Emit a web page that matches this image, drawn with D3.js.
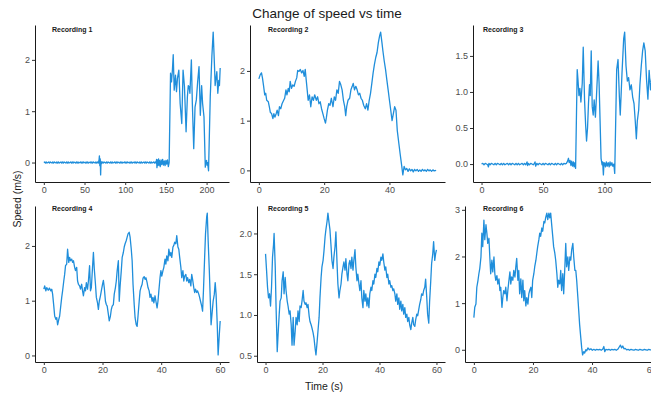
<!DOCTYPE html>
<html>
<head>
<meta charset="utf-8">
<script src="https://cdn.jsdelivr.net/npm/d3@7"></script>
<style>
  body { margin: 0; background: #fff; }
  text { font-family: "Liberation Sans", Arial, sans-serif; }
</style>
</head>
<body>
<svg id="chart" width="651" height="396"></svg>
<script>
// speed (m/s) against time (s)
const rec1 = [
  [0,0],[1,0.01],[2,-0.01],[3,0.01],[4,-0.01],[5,0],[6,0.01],[7,-0.01],[8,0.01],[9,0],[10,-0.01],
  [11,0.01],[12,-0.01],[13,0.01],[14,0],[15,-0.01],[16,0.01],[17,-0.01],[18,0.01],[19,-0.01],[20,0],
  [21,0.01],[22,-0.01],[23,0.01],[24,-0.01],[25,0.01],[26,0],[27,-0.01],[28,0.01],[29,-0.01],[30,0.01],
  [31,-0.01],[32,0],[33,0.01],[34,-0.01],[35,0.01],[36,-0.01],[37,0.01],[38,0],[39,-0.01],[40,0.01],
  [41,-0.01],[42,0.01],[43,-0.01],[44,0],[45,0.01],[46,-0.01],[47,0.01],[48,-0.01],[49,0.01],[50,0],
  [51,-0.01],[52,0.01],[53,-0.01],[54,0.01],[55,-0.01],[56,0],[57,0.01],[58,-0.01],[59,0.01],[60,-0.01],
  [61,0.01],[62,0],[63,-0.01],[64,0.01],[65,-0.01],[66,0.01],[67,-0.01],[67.8,0.04],[68.3,0.13],
  [68.8,-0.06],[69.3,0.07],[69.8,-0.24],[70.3,0.02],[71,-0.02],[72,0.01],[73,-0.01],[74,0.01],[75,0],
  [76,-0.01],[77,0.01],[78,-0.01],[79,0.01],[80,0],[81,-0.01],[82,0.01],[83,-0.01],[84,0.01],[85,-0.01],
  [86,0],[87,0.01],[88,-0.01],[89,0.01],[90,-0.01],[91,0.01],[92,0],[93,-0.01],[94,0.01],[95,-0.01],
  [96,0.01],[97,-0.01],[98,0],[99,0.01],[100,-0.01],[101,0.01],[102,-0.01],[103,0.01],[104,0],[105,-0.01],
  [106,0.01],[107,-0.01],[108,0.01],[109,-0.01],[110,0],[111,0.01],[112,-0.01],[113,0.01],[114,-0.01],
  [115,0.01],[116,0],[117,-0.01],[118,0.01],[119,-0.01],[120,0.01],[121,-0.01],[122,0],[123,0.01],
  [124,-0.01],[125,0.01],[126,-0.01],[127,0.01],[128,0],[129,-0.01],[130,0.01],[131,-0.01],[132,0.01],
  [133,-0.01],[134,0],[135,0.01],[136,-0.01],[137,0.01],[138,-0.01],[138.5,0.06],[139,-0.1],[139.5,0.05],
  [140,-0.06],[141,0.07],[141.5,-0.05],[142,0.04],[143,-0.08],[144,0.05],[145,-0.04],[146,0.06],
  [147,-0.05],[148,0.03],[149,-0.06],[150,0.04],[151,-0.03],[152,0.05],[153,-0.08],[154,0],
  [155.7,1.74],[156.9,1.57],[158,1.8],[159,2.1],[160.2,1.41],[161.8,1.7],[163,1.38],[164.2,1.64],
  [165.9,1.8],[167.5,1.15],[169.5,0.76],[171.1,1.8],[172.8,1.48],[174.8,0.6],[176.4,1.28],[177.5,1.5],
  [178.5,1.48],[179.5,1.35],[181.3,2.0],[182.5,1.15],[184.2,0.27],[185.8,1.08],[187.4,1.22],[189,1.57],
  [190.7,1.87],[192.3,0.92],[193.9,1.5],[195.1,1.15],[196.8,0.89],[198.4,-0.09],[199,0.02],[200,0.04],
  [200.5,-0.05],[201.2,0],[202.4,-0.16],[204.5,1.28],[206.5,2.07],[208.1,2.54],[209.8,1.84],[210.5,1.5],
  [211.4,1.62],[212.6,1.77],[213.8,1.35],[215,1.6],[215.8,1.5],[216.7,1.84]
]

const rec2 = [
  [0,1.84],[0.4,1.92],[0.8,1.96],[1.1,1.86],[1.4,1.72],[1.8,1.52],[2.1,1.55],[2.4,1.41],[2.9,1.38],
  [3.2,1.28],[3.5,1.17],[3.9,1.14],[4.3,1.04],[4.6,1.14],[4.9,1.07],[5.3,1.14],[5.6,1.21],[6.0,1.1],
  [6.3,1.28],[6.7,1.24],[7.1,1.34],[7.6,1.41],[7.9,1.45],[8.3,1.62],[8.6,1.52],[9.0,1.65],[9.3,1.58],
  [9.6,1.79],[10.0,1.65],[10.4,1.72],[10.8,1.69],[11.2,1.79],[11.6,1.86],[11.9,2.01],[12.3,1.99],
  [12.7,2.03],[13.1,1.96],[13.5,2.01],[13.9,1.89],[14.2,2.03],[14.5,1.82],[14.8,1.62],[15.1,1.41],
  [15.5,1.52],[15.9,1.28],[16.3,1.48],[16.7,1.41],[17.1,1.52],[17.6,1.41],[18.0,1.48],[18.4,1.34],
  [18.8,1.38],[19.2,1.24],[19.6,1.14],[20.0,1.04],[20.4,0.95],[20.7,1.07],[21.0,1.21],[21.4,1.34],
  [21.8,1.31],[22.2,1.45],[22.7,1.28],[23.1,1.48],[23.5,1.41],[23.9,1.62],[24.3,1.55],[24.7,1.79],
  [25.1,1.72],[25.5,1.62],[25.9,1.41],[26.3,1.28],[26.6,1.1],[26.9,1.28],[27.3,1.41],[27.8,1.45],
  [28.2,1.62],[28.6,1.69],[28.9,1.75],[29.3,1.62],[29.7,1.69],[30.1,1.62],[30.5,1.52],[30.9,1.55],
  [31.3,1.45],[31.7,1.41],[32.1,1.31],[32.6,1.24],[33.0,1.34],[33.4,1.21],[33.8,1.41],[34.2,1.55],
  [34.6,1.75],[35.0,1.96],[35.4,2.13],[35.8,2.27],[36.2,2.37],[36.6,2.57],[37.0,2.71],[37.3,2.78],
  [37.7,2.57],[38.0,2.4],[38.4,2.2],[38.8,2.03],[39.2,1.82],[39.6,1.62],[40.0,1.41],[40.4,1.21],
  [40.8,1.0],[41.2,1.14],[41.6,1.28],[42.0,1.21],[42.4,0.8],[42.9,0.53],[43.3,0.32],[43.7,0.12],
  [44.1,-0.09],[44.5,0.08],[44.9,0.01],[45.3,0.04],[45.7,-0.02],[46.1,0.03],[46.5,-0.01],[46.9,0.02],
  [47.3,-0.03],[47.7,0.02],[48.1,-0.01],[48.5,0.02],[48.9,-0.02],[49.3,0.01],[49.7,-0.02],[50.1,0.02],
  [50.5,-0.01],[50.9,0.01],[51.3,-0.02],[51.7,0.02],[52.1,-0.01],[52.5,0.01],[52.9,-0.02],[53.3,0.01],
  [53.7,-0.01],[54.3,0]
]

const rec3 = [
  [0,0],[1,0.01],[2,-0.01],[3,0.01],[4,0],[5,-0.01],[5.6,-0.04],[6,0.01],[7,-0.01],[8,0.01],[9,0],
  [10,-0.01],[11,0.01],[12,-0.01],[13,0.01],[14,0],[15,-0.01],[16,0.01],[17,-0.01],[18,0.01],[19,-0.01],
  [20,0],[21,0.01],[22,-0.01],[23,0.01],[24,-0.01],[25,0.01],[26,0],[27,-0.01],[28,0.01],[29,-0.01],
  [30,0.01],[31,-0.01],[32,0],[33,0.01],[34,-0.01],[35,0.01],[36,-0.01],[37,0.03],[37.5,-0.02],[38,0.01],
  [39,-0.01],[40,0.01],[41,0],[42,-0.01],[43,0.01],[43.5,0.03],[44,-0.03],[45,0.01],[46,-0.01],[47,0.01],
  [48,0],[49,-0.01],[50,0.01],[51,-0.01],[52,0.01],[53,0],[54,-0.01],[55,0.01],[56,-0.01],[57,0.01],
  [58,0],[59,-0.01],[60,0.01],[61,-0.01],[62,0.01],[63,0],[64,-0.01],[65,0.01],[66,-0.01],[67,0.01],
  [68,0],[69,0.01],[70,0.04],[70.7,0.08],[71.3,0.02],[72,0.05],[72.7,-0.02],[73.3,0.04],[74,-0.03],
  [74.7,0.03],[75.3,-0.04],[76,0.02],[76.5,-0.06],[77.8,1.31],[78.5,1.15],[79.2,0.95],[80,1.05],
  [80.8,0.86],[81.9,1.12],[82.7,1.62],[83.8,0.88],[84.6,0.56],[85.4,0.32],[86.2,0.5],[87,0.85],
  [87.8,1.1],[88.4,0.95],[89.2,1.57],[90,0.8],[90.8,0.68],[91.6,0.89],[92.6,0.65],[93.5,0.95],
  [94.8,1.43],[95.6,1.12],[96.4,0.6],[97.2,0.08],[98,-0.01],[98.5,0.03],[99.1,-0.15],[99.6,0.02],
  [100.2,0.01],[100.8,-0.04],[101.5,0.03],[102.2,-0.03],[103,0.02],[103.8,-0.04],[104.5,0.03],
  [105.2,-0.02],[106,0.02],[106.8,-0.03],[107.6,0],[108.3,-0.13],[109.9,1.31],[111,1.45],[112.1,0.93],
  [112.8,0.68],[113.6,1.0],[114.2,1.25],[115.6,1.74],[116.4,1.83],[117.5,1.36],[118.6,1.15],[119.6,1.2],
  [120.7,1.03],[121.8,1.1],[122.9,0.93],[124,0.84],[125,0.6],[125.9,0.35],[126.7,0.6],[127.8,0.75],
  [128.8,1.1],[129.9,1.36],[131,1.57],[132,1.68],[133.1,1.57],[134.2,1.17],[135.3,0.9],[136.3,1.3],
  [137.4,1.03],[138.5,1.22],[139,1.1]
]

const rec4 = [
  [0,1.21],[0.3,1.27],[0.7,1.18],[1.0,1.24],[1.5,1.19],[1.9,1.23],[2.4,1.18],[2.7,1.21],[3.0,1.12],
  [3.4,0.9],[3.7,0.72],[4.1,0.66],[4.4,0.69],[4.7,0.56],[5.1,0.66],[5.4,0.72],[5.7,0.87],[6.1,1.06],
  [6.4,1.18],[6.8,1.36],[7.1,1.48],[7.4,1.64],[7.8,1.67],[8.1,1.94],[8.5,1.7],[8.8,1.79],[9.1,1.73],
  [9.5,1.76],[9.8,1.7],[10.1,1.73],[10.5,1.61],[10.8,1.55],[11.2,1.61],[11.5,1.36],[11.8,1.3],
  [12.2,1.27],[12.5,1.21],[12.9,1.3],[13.2,1.18],[13.5,1.09],[13.9,1.24],[14.2,1.18],[14.5,1.33],
  [14.9,1.21],[15.2,1.36],[15.6,1.64],[15.9,1.18],[16.2,1.24],[16.6,1.61],[16.9,1.88],[17.2,1.58],
  [17.6,1.3],[17.9,1.06],[18.3,0.96],[18.6,0.84],[18.9,0.99],[19.3,1.09],[19.6,1.18],[20.0,1.3],
  [20.3,1.37],[20.6,1.24],[21.0,0.99],[21.3,0.93],[21.6,0.9],[22.0,0.75],[22.3,0.63],[22.7,0.72],
  [23.0,0.84],[23.3,0.9],[23.7,0.93],[24.0,1.12],[24.4,1.24],[24.7,1.36],[25.0,1.55],[25.4,1.73],
  [25.7,0.99],[26.0,1.27],[26.4,1.55],[26.7,1.79],[27.1,1.88],[27.4,1.98],[27.7,2.04],[28.1,2.1],
  [28.4,2.16],[28.7,2.22],[29.1,2.25],[29.4,2.16],[29.8,1.94],[30.1,1.73],[30.4,1.3],[30.8,0.93],
  [31.1,0.69],[31.5,0.56],[31.8,0.53],[32.1,0.72],[32.5,0.99],[32.8,1.18],[33.1,1.24],[33.5,1.3],
  [33.8,1.41],[34.2,1.44],[34.5,1.39],[34.8,1.42],[35.2,1.33],[35.5,1.24],[35.9,1.18],[36.2,1.06],
  [36.5,1.12],[36.9,0.99],[37.2,1.06],[37.5,0.96],[37.9,1.09],[38.2,0.99],[38.6,0.87],[38.9,0.99],
  [39.2,1.18],[39.6,1.42],[39.9,1.55],[40.2,1.45],[40.6,1.55],[40.9,1.61],[41.3,1.76],[41.6,1.67],
  [41.9,1.82],[42.3,1.73],[42.6,1.94],[43.0,1.82],[43.3,1.88],[43.6,1.79],[44.0,1.98],[44.3,2.01],
  [44.6,2.07],[45.0,2.04],[45.3,2.19],[45.7,1.98],[46.0,1.94],[46.3,1.79],[46.7,1.61],[47.0,1.42],
  [47.4,1.55],[47.7,1.36],[48.0,1.45],[48.4,1.48],[48.7,1.36],[49.0,1.42],[49.4,1.33],[49.7,1.39],
  [50.1,1.27],[50.4,1.48],[50.7,1.39],[51.1,1.24],[51.4,1.15],[51.7,1.21],[52.1,1.15],[52.4,1.18],
  [52.8,1.12],[53.1,1.06],[53.4,0.99],[53.8,0.9],[54.1,0.81],[54.4,1.18],[54.8,1.79],[55.1,2.22],
  [55.5,2.53],[55.7,2.6],[56.0,2.1],[56.4,1.55],[56.7,1.06],[57.0,0.56],[57.4,0.81],[57.7,0.99],
  [58.1,1.12],[58.4,1.33],[58.7,1.12],[59.1,0.56],[59.4,0.01],[59.8,0.38],[60.1,0.63]
]

const rec5 = [
  [0,1.75],[0.35,1.55],[0.7,1.34],[1.05,1.21],[1.4,1.26],[1.75,1.11],[2.1,1.34],[2.45,1.71],[2.8,1.86],
  [3.0,2.0],[3.4,1.59],[3.7,1.09],[4.1,0.55],[4.4,0.76],[4.8,1.01],[5.1,1.17],[5.5,1.21],[5.8,1.42],
  [6.2,1.53],[6.5,1.26],[6.9,1.46],[7.2,1.3],[7.6,1.17],[7.9,1.11],[8.3,1.01],[8.6,1.05],[9.0,0.88],
  [9.3,0.63],[9.7,0.97],[10.0,0.63],[10.4,0.8],[10.7,0.97],[11.1,0.88],[11.4,1.05],[11.8,0.92],
  [12.1,1.11],[12.5,1.09],[12.8,1.17],[13.2,1.3],[13.5,1.17],[13.9,1.13],[14.2,1.15],[14.6,1.09],
  [14.9,1.13],[15.3,0.99],[15.6,0.92],[16.0,0.88],[16.3,0.84],[16.7,0.78],[17.0,0.72],[17.4,0.59],
  [17.7,0.51],[18.1,0.67],[18.4,0.8],[18.8,0.97],[19.1,1.21],[19.5,1.46],[19.8,1.59],[20.2,1.67],
  [20.5,1.78],[20.9,1.96],[21.2,2.05],[21.6,2.15],[21.9,2.25],[22.3,2.13],[22.6,2.05],[23.0,1.84],
  [23.3,1.67],[23.7,1.57],[24.0,1.71],[24.4,1.84],[24.7,2.02],[25.1,1.63],[25.4,1.38],[25.8,1.21],
  [26.1,1.3],[26.5,1.38],[26.8,1.5],[27.2,1.59],[27.5,1.65],[27.9,1.55],[28.2,1.69],[28.6,1.5],
  [28.9,1.42],[29.3,1.63],[29.6,1.67],[30.0,1.57],[30.3,1.71],[30.7,1.55],[31.0,1.67],[31.4,1.8],
  [31.7,1.59],[32.1,1.42],[32.4,1.5],[32.8,1.38],[33.1,1.3],[33.5,1.42],[33.8,1.21],[34.2,1.09],
  [34.5,1.3],[34.9,1.17],[35.2,1.26],[35.6,1.11],[35.9,1.21],[36.3,1.09],[36.6,1.26],[37.0,1.34],
  [37.3,1.3],[37.7,1.42],[38.0,1.38],[38.4,1.5],[38.7,1.46],[39.1,1.57],[39.4,1.53],[39.8,1.65],
  [40.1,1.61],[40.5,1.71],[40.8,1.67],[41.2,1.75],[41.5,1.65],[41.9,1.55],[42.2,1.59],[42.6,1.46],
  [42.9,1.5],[43.3,1.38],[43.6,1.42],[44.0,1.34],[44.3,1.36],[44.7,1.3],[45.0,1.32],[45.4,1.26],
  [45.7,1.17],[46.1,1.26],[46.4,1.13],[46.8,1.21],[47.1,1.07],[47.5,1.17],[47.8,1.05],[48.2,1.13],
  [48.5,1.01],[48.9,1.09],[49.2,0.97],[49.6,1.01],[49.9,0.92],[50.3,0.97],[50.6,0.88],[51.0,0.82],
  [51.3,0.9],[51.7,0.97],[52.0,0.88],[52.4,0.86],[52.7,0.94],[53.1,1.01],[53.4,0.99],[53.8,1.07],
  [54.1,1.13],[54.5,1.19],[54.8,1.26],[55.2,1.24],[55.5,1.3],[55.9,1.34],[56.2,1.44],[56.6,1.21],
  [56.9,1.01],[57.3,0.9],[57.6,1.17],[58.0,1.42],[58.3,1.63],[58.7,1.75],[59.0,1.9],[59.4,1.67],
  [59.7,1.75],[60.0,1.8]
]

const rec6 = [
  [0,0.69],[0.3,0.91],[0.7,0.98],[1.0,1.34],[1.4,1.49],[1.7,1.63],[2.0,1.74],[2.4,1.99],[2.7,2.5],
  [3.0,2.21],[3.4,2.78],[3.7,2.36],[4.1,2.68],[4.4,2.5],[4.7,2.28],[5.1,2.39],[5.4,1.99],[5.7,1.63],
  [6.1,1.92],[6.4,1.67],[6.8,1.99],[7.1,1.63],[7.4,1.49],[7.8,1.59],[8.1,1.41],[8.5,1.52],[8.8,1.27],
  [9.1,1.34],[9.5,0.91],[9.8,1.12],[10.1,1.27],[10.5,1.2],[10.8,1.34],[11.2,1.05],[11.5,1.27],
  [11.8,1.45],[12.2,1.67],[12.5,1.41],[12.8,1.56],[13.2,1.49],[13.5,1.7],[13.9,1.56],[14.2,1.78],
  [14.5,1.96],[14.9,1.49],[15.2,1.7],[15.5,1.2],[15.9,1.52],[16.2,1.12],[16.6,1.49],[16.9,1.05],
  [17.2,1.27],[17.6,0.94],[17.9,1.12],[18.3,0.98],[18.6,1.2],[18.9,1.27],[19.3,1.34],[19.6,1.12],
  [19.9,1.49],[20.3,1.63],[20.6,1.78],[21.0,1.92],[21.3,2.07],[21.6,2.21],[22.0,2.36],[22.3,2.5],
  [22.6,2.43],[23.0,2.61],[23.3,2.54],[23.7,2.75],[24.0,2.72],[24.3,2.83],[24.7,2.93],[25.0,2.79],
  [25.4,2.93],[25.7,2.83],[26.0,2.93],[26.4,2.64],[26.7,2.43],[27.0,2.21],[27.4,2.07],[27.7,1.92],
  [28.1,1.63],[28.4,1.34],[28.7,1.49],[29.1,1.41],[29.4,1.7],[29.7,1.27],[30.1,1.63],[30.4,1.2],
  [30.8,1.78],[31.1,2.28],[31.4,1.78],[31.8,1.99],[32.1,1.7],[32.5,1.99],[32.8,1.92],[33.1,2.14],
  [33.5,2.28],[33.8,1.99],[34.2,1.7],[34.5,1.7],[34.8,1.49],[35.2,1.12],[35.5,0.83],[35.8,0.54],
  [36.2,0.25],[36.5,0.04],[36.8,-0.11],[37.2,-0.04],[37.5,-0.07],[37.9,0],[38.2,-0.02],[38.6,0.04],
  [39.1,0],[39.6,0.02],[40.1,-0.01],[40.6,0.01],[41.1,-0.01],[41.6,0.01],[42.1,0],[42.6,0.01],
  [43.1,-0.01],[43.6,0.01],[44,0.07],[44.3,-0.04],[44.7,0.01],[45.2,0],[45.7,0.01],[46.2,-0.01],
  [46.7,0.01],[47.2,0],[47.7,0.01],[48.2,-0.01],[48.7,0.01],[49.2,0.06],[49.6,0.1],[50,0.04],
  [50.4,0.08],[50.8,0.02],[51.2,0.03],[51.7,0],[52.2,0.01],[52.7,-0.01],[53.2,0.01],[53.7,0],
  [54.2,-0.01],[54.7,0.01],[55.2,0],[55.7,-0.01],[56.2,0.01],[56.7,0],[57.2,-0.01],[57.7,0.01],
  [58.2,0],[58.7,-0.01],[59.2,0.01],[59.7,0],[60,0]
]

const recordings = ['Recording 1', 'Recording 2', 'Recording 3', 'Recording 4', 'Recording 5', 'Recording 6']
const series = [rec1, rec2, rec3, rec4, rec5, rec6]

const xTicks = [
  [0, 50, 100, 150, 200],
  [0, 20, 40],
  [0, 50, 100],
  [0, 20, 40, 60],
  [0, 20, 40, 60],
  [0, 20, 40, 60],
]
const yTicks = [
  [0, 1, 2],
  [0, 1, 2],
  [0, 0.5, 1, 1.5],
  [0, 1, 2],
  [0.5, 1, 1.5, 2],
  [0, 1, 2, 3],
]
const yDecimals = [0, 0, 1, 0, 1, 0]

// panel boxes in pixels (the third column runs past the right edge of the picture)
const panels = [
  { left: 35, right: 229, top: 25, bottom: 182, labelX: 52, labelY: 30 },
  { left: 250, right: 445, top: 25, bottom: 182, labelX: 268, labelY: 30 },
  { left: 473, right: 661, top: 25, bottom: 182, labelX: 483, labelY: 30 },
  { left: 35, right: 229, top: 206, bottom: 362, labelX: 52, labelY: 209 },
  { left: 257, right: 445, top: 206, bottom: 362, labelX: 268, labelY: 209 },
  { left: 465, right: 660, top: 206, bottom: 362, labelX: 483, labelY: 209 },
]

const lineColor = '#1f8edb'
const svg = d3.select('#chart')

function expand([lo, hi]) {
  const pad = (hi - lo) * 0.05
  return [lo - pad, hi + pad]
}

series.forEach((data, i) => drawPanel(data, i))

function drawPanel(data, i) {
  const p = panels[i]
  const x = d3
    .scaleLinear()
    .domain(expand(d3.extent(data, (d) => d[0])))
    .range([p.left, p.right])
  const y = d3
    .scaleLinear()
    .domain(expand(d3.extent(data, (d) => d[1])))
    .range([p.bottom, p.top])

  const xaxis = d3.axisBottom(x).tickValues(xTicks[i]).tickSize(3).tickSizeOuter(0).tickPadding(2)
  const yaxis = d3
    .axisLeft(y)
    .tickValues(yTicks[i])
    .tickFormat(d3.format(`.${yDecimals[i]}f`))
    .tickSize(3)
    .tickSizeOuter(0)
    .tickPadding(2)

  const gx = svg.append('g').attr('transform', `translate(0,${p.bottom})`).call(xaxis)
  const gy = svg.append('g').attr('transform', `translate(${p.left},0)`).call(yaxis)
  ;[gx, gy].forEach((g) => {
    g.attr('font-family', null).attr('font-size', null)
    g.select('.domain').attr('stroke', '#1a1a1a').attr('stroke-width', 1)
    g.selectAll('.tick line').attr('stroke', '#333')
    g.selectAll('.tick text').attr('fill', '#4d4d4d').style('font-size', '9px')
  })

  const line = d3
    .line()
    .x((d) => x(d[0]))
    .y((d) => y(d[1]))

  svg
    .append('path')
    .datum(data)
    .attr('d', line)
    .attr('fill', 'none')
    .attr('stroke', lineColor)
    .attr('stroke-width', 1.3)
    .attr('stroke-linejoin', 'round')

  svg
    .append('text')
    .attr('x', p.labelX)
    .attr('y', p.labelY)
    .attr('dy', '0.35em')
    .style('font-size', '7px')
    .style('font-weight', 'bold')
    .attr('fill', '#1a1a1a')
    .text(recordings[i])
}

svg
  .append('text')
  .attr('x', 327)
  .attr('y', 13)
  .attr('dy', '0.35em')
  .attr('text-anchor', 'middle')
  .style('font-size', '13.5px')
  .attr('fill', '#1a1a1a')
  .text('Change of speed vs time')

svg
  .append('text')
  .attr('x', 324)
  .attr('y', 386)
  .attr('dy', '0.35em')
  .attr('text-anchor', 'middle')
  .style('font-size', '10.5px')
  .attr('fill', '#1a1a1a')
  .text('Time (s)')

svg
  .append('text')
  .attr('transform', 'translate(17,199) rotate(-90)')
  .attr('dy', '0.35em')
  .attr('text-anchor', 'middle')
  .style('font-size', '10.5px')
  .attr('fill', '#1a1a1a')
  .text('Speed (m/s)')
</script>
</body>
</html>
